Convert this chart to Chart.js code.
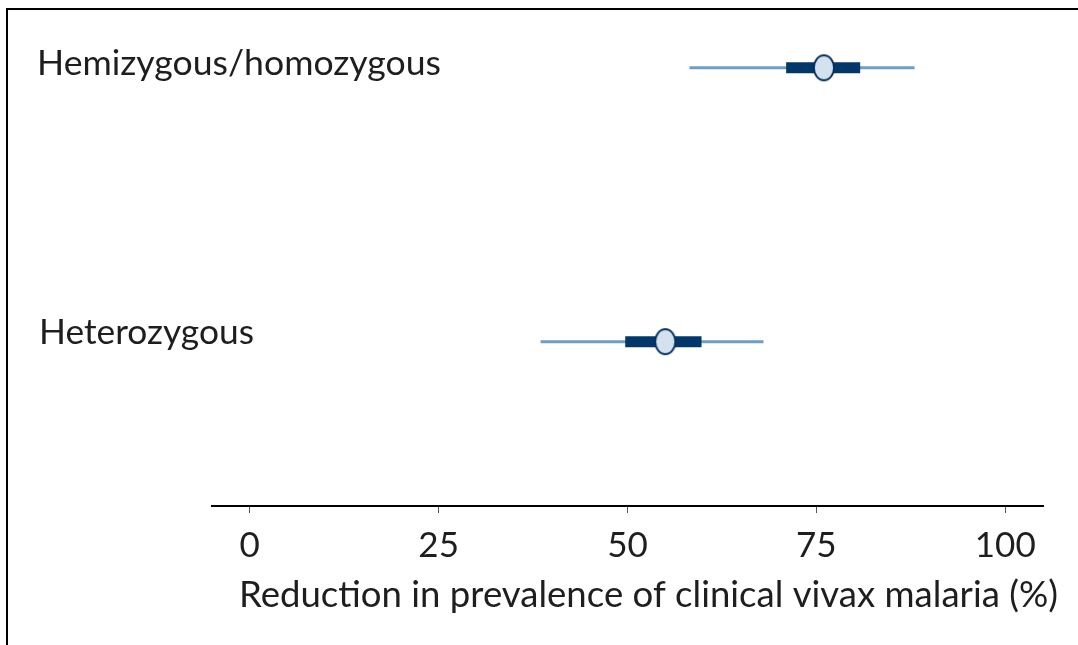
<!DOCTYPE html>
<html>
<head>
<meta charset="utf-8">
<script src="https://cdn.jsdelivr.net/npm/chart.js@4.4.1/dist/chart.umd.min.js"></script>
<style>
    html, body { margin: 0; padding: 0; background: #fff; }
    #wrap { position: relative; width: 1078px; height: 645px; overflow: hidden; }
    #frame {
        position: absolute; left: 6px; top: 8px; right: -4px; bottom: -4px;
        border-top: 2px solid #000; border-left: 2px solid #000;
        pointer-events: none;
    }
</style>
</head>
<body>
<div id="wrap">
    <canvas id="forest-chart" width="1078" height="645"></canvas>
    <div id="frame"></div>
</div>
<script>
// Data
const groups = ['Hemizygous/homozygous', 'Heterozygous'];
const rowPos = [1, 0];
const estimate = [76, 55];
const innerLow = [71, 49.7];
const innerHigh = [80.8, 59.8];
const ciLow = [58.2, 38.5];
const ciHigh = [88, 68];
const xTicks = [0, 25, 50, 75, 100];
const xTitle = 'Reduction in prevalence of clinical vivax malaria (%)';

const FONT = 'Lato, "Open Sans", sans-serif';
const TEXT_COLOR = '#1e1e1e';

// marker: ellipse taller than wide
function makeMarker() {
    const c = document.createElement('canvas');
    c.width = 24;
    c.height = 29;
    const g = c.getContext('2d');
    g.beginPath();
    g.ellipse(12, 14.5, 10, 12.5, 0, 0, Math.PI * 2);
    g.fillStyle = '#d3e2ee';
    g.fill();
    g.lineWidth = 1.8;
    g.strokeStyle = '#0b2e5c';
    g.stroke();
    return c;
}

function segment(lo, hi, i) {
    return [{ x: lo[i], y: rowPos[i] }, { x: hi[i], y: rowPos[i] }];
}

const datasets = [];

// points on top
datasets.push({
    type: 'scatter',
    data: estimate.map((v, i) => ({ x: v, y: rowPos[i] })),
    pointStyle: makeMarker(),
    pointRadius: 12,
    order: 0
});

groups.forEach((name, i) => {
    datasets.push({
        type: 'line',
        data: segment(innerLow, innerHigh, i),
        borderColor: '#033768',
        borderWidth: 11,
        borderCapStyle: 'butt',
        pointRadius: 0,
        order: 1
    });
    datasets.push({
        type: 'line',
        data: segment(ciLow, ciHigh, i),
        borderColor: '#709ec0',
        borderWidth: 3,
        borderCapStyle: 'butt',
        pointRadius: 0,
        order: 2
    });
});

// draw text with horizontal fitting to target widths
function fitText(ctx, text, x, baseline, size, width) {
    ctx.save();
    ctx.font = size + 'px ' + FONT;
    const w = ctx.measureText(text).width;
    ctx.translate(x, baseline);
    ctx.scale(width / w, 1);
    ctx.fillStyle = TEXT_COLOR;
    ctx.textBaseline = 'alphabetic';
    ctx.textAlign = 'left';
    ctx.fillText(text, 0, 0);
    ctx.restore();
}

const labelPlugin = {
    id: 'labelPlugin',
    afterDraw(chart) {
        const ctx = chart.ctx;
        const y = chart.scales.y;
        fitText(ctx, groups[0], 37, y.getPixelForValue(rowPos[0]) + 7, 34, 404);
        fitText(ctx, groups[1], 39, y.getPixelForValue(rowPos[1]) + 2, 34, 215);
        fitText(ctx, xTitle, 239, 607, 36, 819);
    }
};

window.addEventListener('load', () => {
    new Chart(document.getElementById('forest-chart'), {
        type: 'scatter',
        data: { datasets: datasets },
        options: {
            responsive: false,
            animation: false,
            layout: { padding: { left: 212, right: 35, top: 12, bottom: 0 } },
            plugins: {
                legend: { display: false },
                tooltip: { enabled: false }
            },
            scales: {
                x: {
                    type: 'linear',
                    min: -5,
                    max: 105,
                    afterBuildTicks: axis => { axis.ticks = xTicks.map(v => ({ value: v })); },
                    afterFit: axis => { axis.height = 139; },
                    border: { display: true, color: '#000', width: 2 },
                    grid: {
                        drawOnChartArea: false,
                        drawTicks: true,
                        tickLength: 7,
                        color: '#555',
                        lineWidth: 1
                    },
                    ticks: {
                        color: TEXT_COLOR,
                        font: { family: FONT, size: 35 },
                        padding: 12,
                        maxRotation: 0
                    }
                },
                y: {
                    type: 'linear',
                    display: false,
                    min: -0.6,
                    max: 1.2
                }
            }
        },
        plugins: [labelPlugin]
    });
});
</script>
</body>
</html>
